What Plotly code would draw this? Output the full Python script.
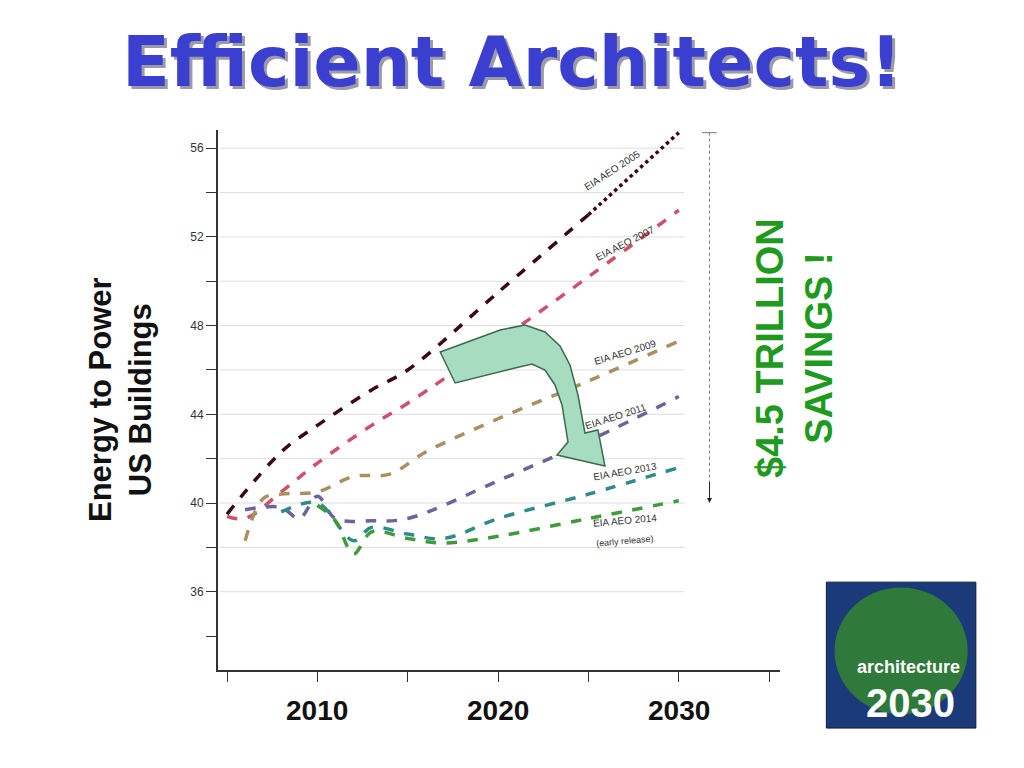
import plotly.graph_objects as go

# values (quad btu)
aeo2005_x = [2005, 2008, 2010, 2013, 2015, 2020, 2025]
aeo2005_y = [39.5, 42.3, 43.5, 45.1, 46.0, 49.5, 53.0]
aeo2005_dot_x = [2025, 2027, 2030]
aeo2005_dot_y = [53.0, 54.5, 56.7]
aeo2007_x = [2005, 2006, 2008, 2010, 2013, 2015, 2020, 2025, 2030]
aeo2007_y = [39.4, 39.3, 40.5, 41.8, 43.5, 44.5, 47.3, 50.2, 53.2]
aeo2009_x = [2006, 2007, 2008, 2010, 2012, 2014, 2016, 2020, 2025, 2030]
aeo2009_y = [38.3, 40.2, 40.4, 40.5, 41.2, 41.3, 42.3, 43.8, 45.5, 47.3]
aeo2011_x = [2006, 2008, 2009, 2010, 2011, 2013, 2015, 2020, 2025, 2030]
aeo2011_y = [39.7, 39.8, 39.3, 40.3, 39.3, 39.2, 39.3, 41.0, 42.8, 44.8]
aeo2013_x = [2008, 2010, 2012, 2013, 2015, 2017, 2020, 2025, 2030]
aeo2013_y = [39.6, 40.0, 38.3, 38.9, 38.6, 38.4, 39.3, 40.4, 41.6]
aeo2014_x = [2010, 2011, 2012, 2013, 2015, 2017, 2020, 2025, 2030]
aeo2014_y = [39.9, 39.2, 37.7, 38.7, 38.4, 38.2, 38.5, 39.3, 40.1]

y_ticks = [36, 40, 44, 48, 52, 56]
x_labels = [2010, 2020, 2030]

series = [
    (aeo2005_x, aeo2005_y, '#3a0a14', 'EIA AEO 2005', 2026.3, 55.0, -33),
    (aeo2007_x, aeo2007_y, '#d0506a', 'EIA AEO 2007', 2027, 51.7, -27),
    (aeo2009_x, aeo2009_y, '#a89060', 'EIA AEO 2009', 2027, 46.8, -17),
    (aeo2011_x, aeo2011_y, '#6a6498', 'EIA AEO 2011', 2026.5, 43.9, -18),
    (aeo2013_x, aeo2013_y, '#2f8a8a', 'EIA AEO 2013', 2027, 41.4, -10),
    (aeo2014_x, aeo2014_y, '#3f9a3a', 'EIA AEO 2014', 2027, 39.2, -5),
]

OX = 8 / 1024   # page body margin
OY = 8 / 768


def px2x(p):
    return 2010 + (p - 317) / 18.1


def px2y(p):
    return 40 - (p - 503) / 22.17


def text_at(px, py, text, size, color, angle=0, family='Liberation Sans', **kw):
    # place text by its centre in reference pixels
    fig.add_annotation(x=(px - 8) / 1024, y=1 - (py - 8) / 768, xref='paper', yref='paper',
                       xanchor='center', yanchor='middle', showarrow=False, textangle=angle,
                       text=text, font=dict(size=size, color=color, family=family), **kw)


fig = go.Figure()
for xs, ys, c, name, lx, ly, ang in series:
    fig.add_trace(go.Scatter(x=xs, y=ys, mode='lines', line=dict(color=c, width=3.5, dash='dash'),
                             line_shape='spline', name=name))
    fig.add_annotation(x=lx, y=ly, text=name, showarrow=False, textangle=ang,
                       font=dict(size=10, color='#333', family='Liberation Sans'))
fig.add_trace(go.Scatter(x=aeo2005_dot_x, y=aeo2005_dot_y, mode='lines',
                         line=dict(color='#3a0a14', width=3.5, dash='dot')))
fig.add_annotation(x=2027, y=38.3, text='(early release)', showarrow=False, textangle=-5,
                   font=dict(size=9, color='#333', family='Liberation Sans'))

# grid lines stop at 2030
for v in range(36, 57, 2):
    fig.add_shape(type='line', xref='x', yref='y', x0=2004.6, x1=2030.3, y0=v, y1=v,
                  line=dict(color='#dddddd', width=1), layer='below')

# green arrow, outline in pixels
arrow_px = [(440, 352), (500, 330), (525, 325), (545, 332), (560, 346), (570, 365), (578, 395),
            (585, 433), (598, 430), (605, 466), (557, 455), (568, 442), (562, 405),
            (555, 385), (545, 370), (532, 364), (515, 368), (455, 383)]
path = 'M ' + ' L '.join(f'{px2x(a):.3f},{px2y(b):.3f}' for a, b in arrow_px) + ' Z'
fig.add_shape(type='path', xref='x', yref='y', layer='above', path=path,
              fillcolor='#a8dcc0', line=dict(color='#3a6a4a', width=1.5))

# savings range
fig.add_shape(type='line', xref='x', yref='y', x0=2031.7, x1=2031.7, y0=56.7, y1=40.3,
              line=dict(color='#777', width=1, dash='dot'))
fig.add_shape(type='line', xref='x', yref='y', x0=2031.3, x1=2032.1, y0=56.7, y1=56.7,
              line=dict(color='#777', width=1))
fig.add_annotation(x=2031.7, y=40.0, ax=2031.7, ay=41.0, xref='x', yref='y', axref='x', ayref='y',
                   text='', showarrow=True, arrowhead=2, arrowsize=1, arrowcolor='#222')

text_at(512, 62, '<b>Efficient Architects!</b>', 70, '#9a9aa8', family='DejaVu Sans', xshift=3, yshift=-3)
text_at(512, 62, '<b>Efficient Architects!</b>', 70, '#3b3fcf', family='DejaVu Sans')
text_at(120, 400, '<b>Energy to Power<br>US Buildings</b>', 31, '#111', angle=-90)
text_at(795, 348, '<b>$4.5 TRILLION<br>SAVINGS !</b>', 38, '#1e9a1e', angle=-90)
for yr in x_labels:
    fig.add_annotation(x=yr, y=1 - (710 - 8) / 768, xref='x', yref='paper', showarrow=False,
                       xanchor='center', yanchor='middle', text=f'<b>{yr}</b>',
                       font=dict(size=28, color='#111', family='Liberation Sans'))

# logo stand-in
fig.add_shape(type='rect', xref='paper', yref='paper', x0=0.807 - OX, x1=0.953 - OX,
              y0=0.052 + OY, y1=0.242 + OY, fillcolor='#1b3a7a', line=dict(color='#0b1a3a', width=1))
fig.add_shape(type='circle', xref='paper', yref='paper', x0=0.815 - OX, x1=0.945 - OX,
              y0=0.07 + OY, y1=0.235 + OY, fillcolor='#2f7a3a', line=dict(width=0))
text_at(908, 667, '<b>architecture</b>', 18, 'white')
text_at(910, 703, '<b>2030</b>', 40, 'white')

fig.update_layout(
    width=1024, height=768, showlegend=False,
    margin=dict(l=0, r=0, t=0, b=0),
    paper_bgcolor='white', plot_bgcolor='white',
    xaxis=dict(domain=[210 / 1024, 772 / 1024], range=[2004.5, 2035.6], showgrid=False,
               zeroline=False, showline=True, linecolor='#333', linewidth=2, automargin=False,
               tickvals=list(range(2005, 2036, 5)), ticks='outside', ticklen=10,
               tickcolor='#333', showticklabels=False),
    yaxis=dict(domain=[1 - 662 / 768, 1 - 122 / 768], range=[32.47, 56.82], showgrid=False,
               zeroline=False, showline=True, linecolor='#333', linewidth=2, automargin=False,
               tickvals=y_ticks, ticks='outside', ticklen=10, tickcolor='#333',
               minor=dict(tickvals=list(range(34, 57, 2)), ticks='outside', ticklen=10, tickcolor='#333'),
               tickfont=dict(size=12, color='#333', family='Liberation Sans')),
)

fig.write_html("out.html")
